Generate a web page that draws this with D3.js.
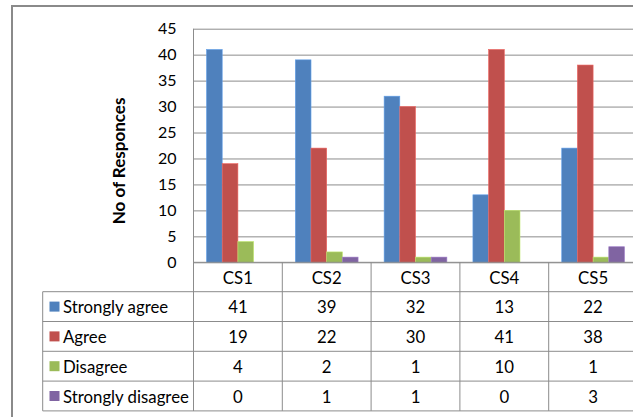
<!DOCTYPE html>
<html><head><meta charset="utf-8">
<script src="https://cdn.jsdelivr.net/npm/d3@7"></script>
<style>html,body{margin:0;padding:0;background:#fff;}svg{display:block;}</style>
</head><body>
<script>
const categories = ["CS1","CS2","CS3","CS4","CS5"];
const seriesNames = ["Strongly agree","Agree","Disagree","Strongly disagree"];
const stronglyAgree = [41,39,32,13,22];
const agree = [19,22,30,41,38];
const disagree = [4,2,1,10,1];
const stronglyDisagree = [0,1,1,0,3];
const yTicks = [0,5,10,15,20,25,30,35,40,45];
const colors = ["#4F81BD","#C0504D","#9BBB59","#8064A2"];
const yTitle = "No of Responces";

const seriesValues = [stronglyAgree, agree, disagree, stronglyDisagree];
const W = 633, H = 417;
const font = "Lato, 'Open Sans', sans-serif";
const svg = d3.select("body").append("svg").attr("width", W).attr("height", H);

// outer chart border
svg.append("rect").attr("x",12).attr("y",6).attr("width",W+10).attr("height",H+10)
  .attr("fill","#fff").attr("stroke","#8a8a8a").attr("stroke-width",2);

const plotL = 193.5, plotR = 637.5, plotT = 28.7, plotB = 262.3;
const x = d3.scaleBand().domain(categories).range([plotL, plotR]).paddingInner(0).paddingOuter(0);
const x1 = d3.scaleBand().domain(seriesNames).range([0, x.bandwidth()]).paddingInner(0).paddingOuter(0.83);
const y = d3.scaleLinear().domain([0,45]).range([plotB, plotT]);

// gridlines + y axis
const yAxis = d3.axisLeft(y).tickValues(yTicks).tickSizeInner(-(plotR-plotL)).tickSizeOuter(0).tickPadding(17);
const gy = svg.append("g").attr("transform",`translate(${plotL},0)`).call(yAxis);
gy.select(".domain").remove();
gy.selectAll(".tick line").attr("stroke","#8c8c8c").attr("stroke-width",1);
gy.selectAll(".tick text").attr("font-family",font).attr("font-size",16).attr("fill","#000");

// y axis line
svg.append("line").attr("x1",plotL).attr("x2",plotL).attr("y1",plotT).attr("y2",411)
  .attr("stroke","#8c8c8c");

// bars
const groups = svg.append("g").selectAll("g").data(categories).join("g")
  .attr("transform", d => `translate(${x(d)},0)`);
groups.selectAll("rect").data((c,i) => seriesNames.map((s,k)=>({s, v: seriesValues[k][i], k})))
  .join("rect")
  .attr("x", d => x1(d.s)).attr("width", x1.bandwidth())
  .attr("y", d => y(d.v)).attr("height", d => plotB - y(d.v))
  .attr("fill", d => colors[d.k])
  .attr("stroke", d => d.v > 0 ? d3.color(colors[d.k]).brighter(0.6) : "none").attr("stroke-width",0.6);

// table
const tableL = 42.7, headerB = 291.7, rowH = 29.8;
const lineCol = "#8c8c8c";
const fs = 16.8;
const tg = svg.append("g");
tg.append("line").attr("x1",plotL).attr("x2",W).attr("y1",plotB).attr("y2",plotB).attr("stroke",lineCol);
for (let r = 0; r <= seriesNames.length; r++) {
  const yy = headerB + r*rowH;
  tg.append("line").attr("x1",tableL).attr("x2",W).attr("y1",yy).attr("y2",yy).attr("stroke",lineCol);
}
tg.append("line").attr("x1",tableL).attr("x2",tableL).attr("y1",headerB).attr("y2",headerB+4*rowH).attr("stroke",lineCol);
categories.forEach(c => {
  const xx = x(c) + x.bandwidth();
  tg.append("line").attr("x1",xx).attr("x2",xx).attr("y1",plotB).attr("y2",headerB+4*rowH).attr("stroke",lineCol);
});
tg.selectAll("text.hdr").data(categories).join("text").attr("class","hdr")
  .attr("x", d => x(d)+x.bandwidth()/2).attr("y",(plotB+headerB)/2)
  .attr("text-anchor","middle").attr("dominant-baseline","central")
  .attr("font-family",font).attr("font-size",fs).text(d=>d);
seriesNames.forEach((s,k) => {
  const cy = headerB + k*rowH + rowH/2;
  tg.append("rect").attr("x",49.5).attr("y",cy-5).attr("width",10).attr("height",10).attr("fill",colors[k]);
  tg.append("text").attr("x",63).attr("y",cy).attr("dominant-baseline","central")
    .attr("font-family",font).attr("font-size",fs).text(s);
  categories.forEach((c,i) => {
    tg.append("text").attr("x",x(c)+x.bandwidth()/2).attr("y",cy)
      .attr("text-anchor","middle").attr("dominant-baseline","central")
      .attr("font-family",font).attr("font-size",fs).text(seriesValues[k][i]);
  });
});

svg.append("text").attr("transform",`translate(118,161) rotate(-90)`)
  .attr("text-anchor","middle").attr("dominant-baseline","central")
  .attr("font-family",font).attr("font-weight","bold").attr("font-size",17).text(yTitle);
</script>
</body></html>
